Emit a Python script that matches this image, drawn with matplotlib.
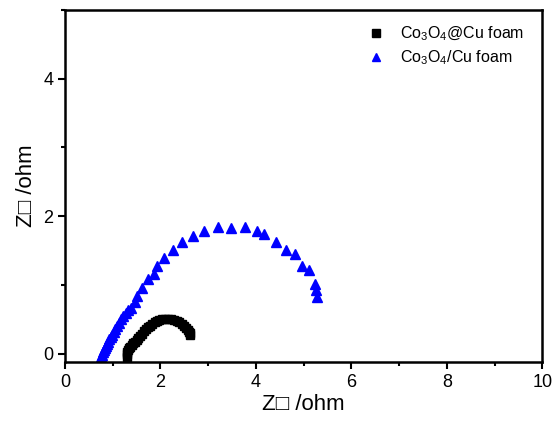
import matplotlib
matplotlib.use("Agg")
import matplotlib.pyplot as plt
from matplotlib.ticker import MultipleLocator

plt.rcParams['font.family'] = ['Liberation Sans', 'DejaVu Sans']
plt.rcParams['mathtext.fontset'] = 'custom'
plt.rcParams['mathtext.rm'] = 'Liberation Sans'
plt.rcParams['mathtext.it'] = 'Liberation Sans'

# Co3O4@Cu foam (black squares)
black_x = [1.29, 1.30, 1.31, 1.33, 1.35, 1.37, 1.40, 1.43, 1.46, 1.50, 1.54, 1.58,
           1.62, 1.66, 1.70, 1.74, 1.78, 1.83, 1.88, 1.93, 1.98, 2.04, 2.10, 2.16,
           2.22, 2.28, 2.34, 2.40, 2.45, 2.50, 2.54, 2.57, 2.60, 2.61, 2.62]
black_y = [-0.04, -0.01, 0.02, 0.05, 0.08, 0.10, 0.13, 0.15, 0.17, 0.20, 0.23, 0.26,
           0.29, 0.33, 0.36, 0.39, 0.41, 0.44, 0.46, 0.48, 0.49, 0.50, 0.50, 0.50,
           0.50, 0.49, 0.48, 0.46, 0.44, 0.41, 0.38, 0.35, 0.32, 0.30, 0.28]

# Co3O4/Cu foam (blue triangles)
blue_x = [0.75, 0.77, 0.79, 0.81, 0.83, 0.85, 0.88, 0.90, 0.93, 0.96, 0.99, 1.02,
          1.05, 1.09, 1.13, 1.17, 1.22, 1.28, 1.33, 1.38, 1.47, 1.52, 1.61, 1.73,
          1.87, 1.92, 2.08, 2.26, 2.45, 2.68, 2.92, 3.21, 3.47, 3.77, 4.03, 4.17,
          4.42, 4.63, 4.81, 4.97, 5.12, 5.24, 5.26, 5.29]
blue_y = [-0.05, -0.02, 0.02, 0.05, 0.08, 0.11, 0.14, 0.17, 0.21, 0.25, 0.28, 0.32,
          0.36, 0.40, 0.45, 0.50, 0.55, 0.60, 0.63, 0.66, 0.76, 0.84, 0.95, 1.08,
          1.16, 1.28, 1.39, 1.51, 1.62, 1.71, 1.79, 1.84, 1.83, 1.85, 1.79, 1.74,
          1.62, 1.51, 1.45, 1.28, 1.22, 1.01, 0.93, 0.82]

labels = [r'Co$_3$O$_4$@Cu foam', r'Co$_3$O$_4$/Cu foam']

fig = plt.figure(figsize=(5.55, 4.32), dpi=100)
ax = fig.add_axes([0.117, 0.162, 0.860, 0.815])

ax.plot(black_x, black_y, 's', color='black', markersize=6, label=labels[0], linestyle='none')
ax.plot(blue_x, blue_y, '^', color='blue', markersize=7, label=labels[1], linestyle='none')

ax.set_xlim(0, 10)
ax.set_ylim(-0.12, 5.0)
ax.xaxis.set_major_locator(MultipleLocator(2))
ax.xaxis.set_minor_locator(MultipleLocator(1))
ax.yaxis.set_major_locator(MultipleLocator(2))
ax.yaxis.set_minor_locator(MultipleLocator(1))
ax.tick_params(which='major', direction='out', length=5, width=1.5, labelsize=13)
ax.tick_params(which='minor', direction='out', length=3, width=1.5)
ax.tick_params(top=False, right=False)
for s in ax.spines.values():
    s.set_linewidth(1.8)

ax.set_xlabel('Z\u25a1 /ohm', fontsize=16, labelpad=2)
ax.set_ylabel('Z\u25a1 /ohm', fontsize=16, labelpad=4)

ax.legend(loc='upper right', frameon=False, fontsize=11.5, handletextpad=0.5,
          bbox_to_anchor=(0.985, 0.99), borderaxespad=0.3, labelspacing=0.35,
          markerscale=0.9)

fig.savefig('out.png', dpi=100)
